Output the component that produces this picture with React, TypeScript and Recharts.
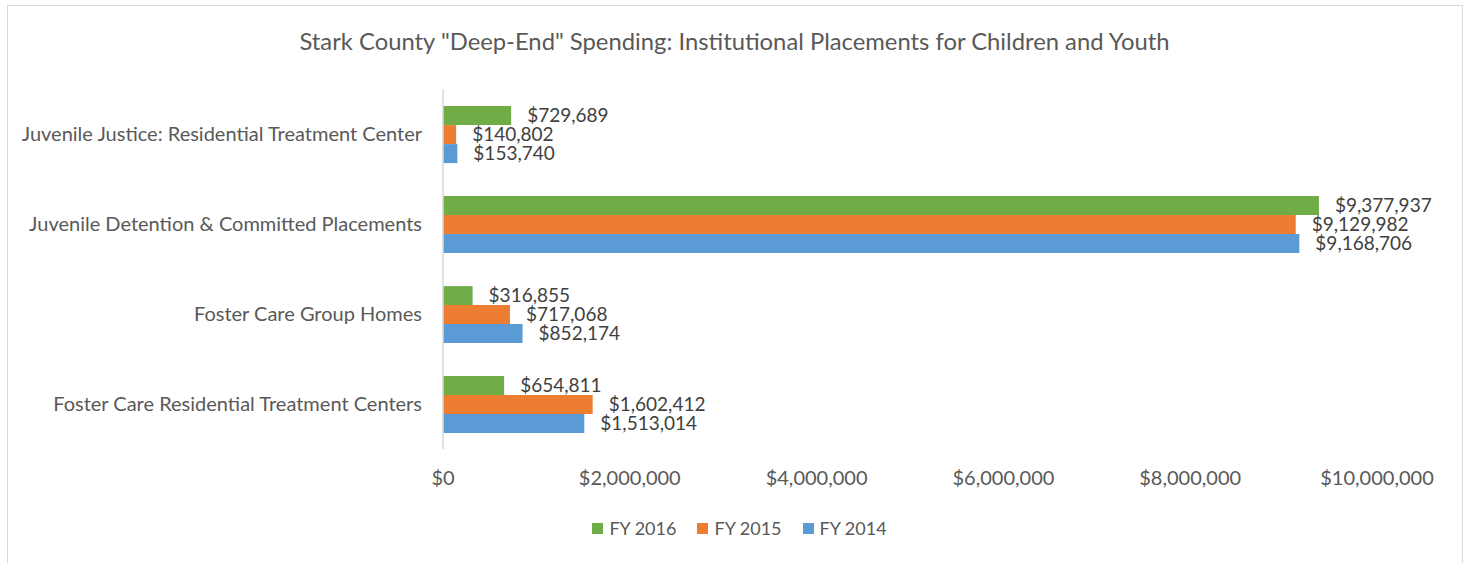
import { BarChart, Bar, XAxis, YAxis, Legend, LabelList } from 'recharts'

const categories = [
  'Juvenile Justice: Residential Treatment Center',
  'Juvenile Detention & Committed Placements',
  'Foster Care Group Homes',
  'Foster Care Residential Treatment Centers',
]
const fy2016 = [729689, 9377937, 316855, 654811]
const fy2015 = [140802, 9129982, 717068, 1602412]
const fy2014 = [153740, 9168706, 852174, 1513014]
const xTicks = [0, 2000000, 4000000, 6000000, 8000000, 10000000]

const series = [
  { key: 'fy2016', name: 'FY 2016', color: '#70AD47' },
  { key: 'fy2015', name: 'FY 2015', color: '#ED7D31' },
  { key: 'fy2014', name: 'FY 2014', color: '#5B9BD5' },
]

const data = categories.map((name, i) => ({
  name,
  fy2016: fy2016[i],
  fy2015: fy2015[i],
  fy2014: fy2014[i],
}))

const FONT = 'Lato, "Open Sans", sans-serif'
const money = (v: any) => `$${Number(v).toLocaleString('en-US')}`

// keep legend in the same order as the series (FY 2016 first)
const renderLegend = (props: any) => {
  const items = [...(props.payload || [])].sort(
    (a: any, b: any) =>
      series.findIndex((s) => s.name === a.value) - series.findIndex((s) => s.name === b.value)
  )
  return (
    <div style={{ display: 'flex', justifyContent: 'center', gap: 21, fontSize: 18, color: '#595959', fontFamily: FONT }}>
      {items.map((p: any) => (
        <span key={p.value} style={{ display: 'inline-flex', alignItems: 'center' }}>
          <span style={{ display: 'inline-block', width: 11, height: 11, background: p.color, marginRight: 6 }} />
          {p.value}
        </span>
      ))}
    </div>
  )
}

export default function App() {
  return (
    <div style={{ position: 'absolute', left: 0, top: 0, width: 1469, height: 563, overflow: 'hidden', background: '#fff', fontFamily: FONT }}>
      <div
        style={{
          position: 'absolute',
          left: 7,
          top: 5,
          width: 1454,
          height: 600,
          border: '1px solid #d9d9d9',
        }}
      />
      <div
        style={{
          position: 'absolute',
          top: 27,
          left: 0,
          width: 1469,
          textAlign: 'center',
          fontSize: 23.8,
          lineHeight: 1.2,
          color: '#595959',
        }}
      >
        Stark County "Deep-End" Spending: Institutional Placements for Children and Youth
      </div>
      <BarChart
        width={1469}
        height={563}
        data={data}
        layout="vertical"
        margin={{ top: 89, right: 92, bottom: 74, left: 0 }}
        barCategoryGap="19%"
        barGap={0}
        style={{ fontFamily: FONT }}
      >
        <XAxis
          type="number"
          domain={[0, 10000000]}
          ticks={xTicks}
          tickFormatter={money}
          axisLine={false}
          tickLine={false}
          tickSize={0}
          tickMargin={22}
          height={40}
          tick={{ fill: '#595959', fontSize: 20 }}
        />
        <YAxis
          type="category"
          dataKey="name"
          width={443}
          axisLine={{ stroke: '#d9d9d9', strokeWidth: 1.5 }}
          tickLine={false}
          tickSize={0}
          tickMargin={21}
          tick={{ fill: '#595959', fontSize: 20 }}
        />
        <Legend
          verticalAlign="middle"
          align="center"
          content={renderLegend}
          wrapperStyle={{ top: 517, left: 5, width: 1469 }}
        />
        {series.map((s) => (
          <Bar key={s.key} dataKey={s.key} name={s.name} fill={s.color} isAnimationActive={false}>
            <LabelList
              dataKey={s.key}
              position="right"
              offset={16}
              formatter={money}
              style={{ fill: '#404040', fontSize: 19 }}
            />
          </Bar>
        ))}
      </BarChart>
    </div>
  )
}
